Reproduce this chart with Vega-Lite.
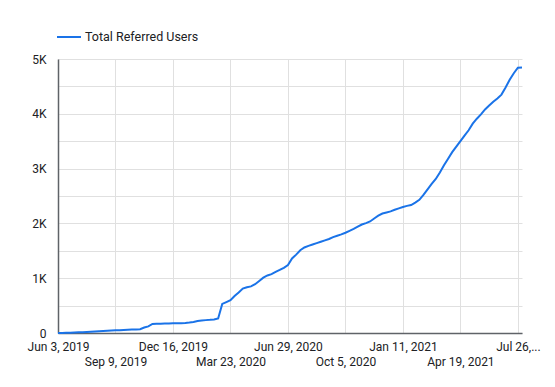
{
  "$schema": "https://vega.github.io/schema/vega-lite/v6.json",
  "width": 464,
  "height": 274,
  "autosize": {"type": "none"},
  "padding": {"left": 58, "top": 59, "right": 33, "bottom": 54},
  "background": "white",
  "config": {"view": {"stroke": null}, "font": "Roboto"},
  "data": {"values": [
    {"week": "2019-06-03", "users": 0}, {"week": "2019-06-10", "users": 2}, {"week": "2019-06-17", "users": 4},
    {"week": "2019-06-24", "users": 6}, {"week": "2019-07-01", "users": 9}, {"week": "2019-07-08", "users": 12},
    {"week": "2019-07-15", "users": 15}, {"week": "2019-07-22", "users": 19}, {"week": "2019-07-29", "users": 23},
    {"week": "2019-08-05", "users": 27}, {"week": "2019-08-12", "users": 31}, {"week": "2019-08-19", "users": 35},
    {"week": "2019-08-26", "users": 40}, {"week": "2019-09-02", "users": 44}, {"week": "2019-09-09", "users": 48},
    {"week": "2019-09-16", "users": 52}, {"week": "2019-09-23", "users": 56}, {"week": "2019-09-30", "users": 60},
    {"week": "2019-10-07", "users": 63}, {"week": "2019-10-14", "users": 66}, {"week": "2019-10-21", "users": 70},
    {"week": "2019-10-28", "users": 100}, {"week": "2019-11-04", "users": 120}, {"week": "2019-11-11", "users": 165},
    {"week": "2019-11-18", "users": 168}, {"week": "2019-11-25", "users": 170}, {"week": "2019-12-02", "users": 172},
    {"week": "2019-12-09", "users": 174}, {"week": "2019-12-16", "users": 176}, {"week": "2019-12-23", "users": 178},
    {"week": "2019-12-30", "users": 180}, {"week": "2020-01-06", "users": 183}, {"week": "2020-01-13", "users": 190},
    {"week": "2020-01-20", "users": 200}, {"week": "2020-01-27", "users": 218}, {"week": "2020-02-03", "users": 228},
    {"week": "2020-02-10", "users": 235}, {"week": "2020-02-17", "users": 240}, {"week": "2020-02-24", "users": 248},
    {"week": "2020-03-02", "users": 265}, {"week": "2020-03-09", "users": 530}, {"week": "2020-03-16", "users": 565},
    {"week": "2020-03-23", "users": 600}, {"week": "2020-03-30", "users": 675}, {"week": "2020-04-06", "users": 740},
    {"week": "2020-04-13", "users": 810}, {"week": "2020-04-20", "users": 835}, {"week": "2020-04-27", "users": 850},
    {"week": "2020-05-04", "users": 890}, {"week": "2020-05-11", "users": 950}, {"week": "2020-05-18", "users": 1010},
    {"week": "2020-05-25", "users": 1050}, {"week": "2020-06-01", "users": 1075}, {"week": "2020-06-08", "users": 1115},
    {"week": "2020-06-15", "users": 1150}, {"week": "2020-06-22", "users": 1190}, {"week": "2020-06-29", "users": 1240},
    {"week": "2020-07-06", "users": 1360}, {"week": "2020-07-13", "users": 1430}, {"week": "2020-07-20", "users": 1510},
    {"week": "2020-07-27", "users": 1560}, {"week": "2020-08-03", "users": 1590}, {"week": "2020-08-10", "users": 1615},
    {"week": "2020-08-17", "users": 1640}, {"week": "2020-08-24", "users": 1665}, {"week": "2020-08-31", "users": 1690},
    {"week": "2020-09-07", "users": 1715}, {"week": "2020-09-14", "users": 1750}, {"week": "2020-09-21", "users": 1775},
    {"week": "2020-09-28", "users": 1800}, {"week": "2020-10-05", "users": 1830}, {"week": "2020-10-12", "users": 1865},
    {"week": "2020-10-19", "users": 1900}, {"week": "2020-10-26", "users": 1940}, {"week": "2020-11-02", "users": 1980},
    {"week": "2020-11-09", "users": 2005}, {"week": "2020-11-16", "users": 2035}, {"week": "2020-11-23", "users": 2090},
    {"week": "2020-11-30", "users": 2140}, {"week": "2020-12-07", "users": 2180}, {"week": "2020-12-14", "users": 2200},
    {"week": "2020-12-21", "users": 2220}, {"week": "2020-12-28", "users": 2250}, {"week": "2021-01-04", "users": 2275},
    {"week": "2021-01-11", "users": 2300}, {"week": "2021-01-18", "users": 2320}, {"week": "2021-01-25", "users": 2335},
    {"week": "2021-02-01", "users": 2380}, {"week": "2021-02-08", "users": 2430}, {"week": "2021-02-15", "users": 2520},
    {"week": "2021-02-22", "users": 2620}, {"week": "2021-03-01", "users": 2720}, {"week": "2021-03-08", "users": 2810},
    {"week": "2021-03-15", "users": 2930}, {"week": "2021-03-22", "users": 3060}, {"week": "2021-03-29", "users": 3180},
    {"week": "2021-04-05", "users": 3300}, {"week": "2021-04-12", "users": 3400}, {"week": "2021-04-19", "users": 3500},
    {"week": "2021-04-26", "users": 3600}, {"week": "2021-05-03", "users": 3700}, {"week": "2021-05-10", "users": 3820},
    {"week": "2021-05-17", "users": 3910}, {"week": "2021-05-24", "users": 3990}, {"week": "2021-05-31", "users": 4080},
    {"week": "2021-06-07", "users": 4150}, {"week": "2021-06-14", "users": 4220}, {"week": "2021-06-21", "users": 4280},
    {"week": "2021-06-28", "users": 4350}, {"week": "2021-07-05", "users": 4480}, {"week": "2021-07-12", "users": 4620},
    {"week": "2021-07-19", "users": 4740}, {"week": "2021-07-26", "users": 4840}, {"week": "2021-08-02", "users": 4845}
  ]},
  "mark": {"type": "line", "strokeWidth": 2, "interpolate": "linear"},
  "encoding": {
    "x": {
      "field": "week",
      "type": "temporal",
      "scale": {"type": "utc", "nice": false},
      "axis": {
        "title": null,
        "values": [
          {"year": 2019, "month": 6, "date": 3, "utc": true},
          {"year": 2019, "month": 9, "date": 9, "utc": true},
          {"year": 2019, "month": 12, "date": 16, "utc": true},
          {"year": 2020, "month": 3, "date": 23, "utc": true},
          {"year": 2020, "month": 6, "date": 29, "utc": true},
          {"year": 2020, "month": 10, "date": 5, "utc": true},
          {"year": 2021, "month": 1, "date": 11, "utc": true},
          {"year": 2021, "month": 4, "date": 19, "utc": true},
          {"year": 2021, "month": 7, "date": 26, "utc": true}
        ],
        "labelExpr": "round((datum.value - utc(2019,5,3)) / 604800000) == 112 ? 'Jul 26,...' : (round((datum.value - utc(2019,5,3)) / 604800000) % 28 == 14 ? ['', utcFormat(datum.value, '%b %-d, %Y')] : utcFormat(datum.value, '%b %-d, %Y'))",
        "labelFlush": false,
        "labelOverlap": false,
        "labelBound": false,
        "tickSize": 0,
        "labelPadding": 8,
        "labelLineHeight": 15,
        "labelFontSize": 12,
        "labelFont": "Roboto",
        "labelColor": "#202124",
        "grid": true,
        "gridColor": "#e0e0e0",
        "domainColor": "#5f6368",
        "domainWidth": 1.5
      }
    },
    "y": {
      "field": "users",
      "type": "quantitative",
      "scale": {"domain": [0, 5000], "nice": false},
      "axis": {
        "title": null,
        "values": [0, 500, 1000, 1500, 2000, 2500, 3000, 3500, 4000, 4500, 5000],
        "labelExpr": "datum.value % 1000 == 0 ? (datum.value == 0 ? '0' : (datum.value / 1000) + 'K') : ''",
        "labelOverlap": false,
        "tickSize": 0,
        "labelPadding": 12,
        "labelFontSize": 12,
        "labelFont": "Roboto",
        "labelColor": "#202124",
        "grid": true,
        "gridColor": "#e0e0e0",
        "domainColor": "#5f6368",
        "domainWidth": 1.5
      }
    },
    "color": {
      "datum": "Total Referred Users",
      "scale": {"range": ["#1a73e8"]},
      "legend": {
        "title": null,
        "orient": "none",
        "legendX": -2,
        "legendY": -35,
        "padding": 0,
        "symbolType": "stroke",
        "symbolStrokeWidth": 2,
        "symbolSize": 576,
        "labelOffset": 3,
        "labelFontSize": 12.5,
        "labelFont": "Roboto",
        "labelColor": "#202124"
      }
    }
  }
}
